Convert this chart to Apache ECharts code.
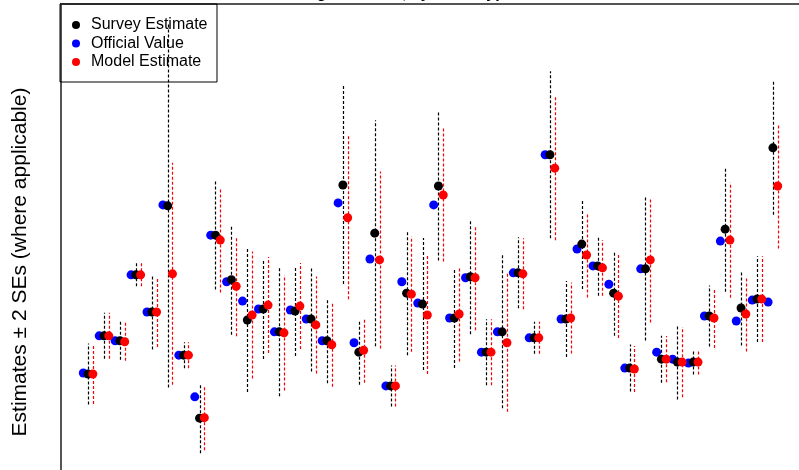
<!DOCTYPE html>
<html><head><meta charset="utf-8">
<script src="https://cdn.jsdelivr.net/npm/echarts@6/dist/echarts.min.js"></script>
<style>html,body{margin:0;padding:0;background:#fff;overflow:hidden}#c{width:799px;height:470px}</style>
</head><body><div id="c"></div>
<script>
// Survey estimate (black) and its standard error
const survey = [25.4,33.1,32.1,45.4,37.9,59.3,29.2,16.5,53.4,44.4,36.3,38.5,33.9,38.1,36.5,32.1,63.5,29.8,53.8,23.0,41.7,39.5,63.3,36.7,45.0,29.8,33.9,45.8,32.7,69.6,36.5,51.6,47.2,41.7,26.6,46.6,28.4,27.8,27.8,37.1,54.6,38.7,40.5,71.0];
const surveySE = [3.07,2.32,1.92,1.16,3.78,18.3,1.31,3.53,5.49,5.54,7.26,5.04,6.50,4.54,5.29,4.28,9.98,3.28,11.39,2.07,6.25,6.65,7.51,5.04,5.80,3.33,7.71,3.58,1.61,8.42,3.83,4.54,3.02,4.28,2.37,7.21,2.37,3.78,1.26,3.07,6.30,3.78,4.33,6.75];
// Official value (blue)
const official = [25.6,33.1,32.1,45.4,37.9,59.5,29.2,20.8,53.4,44.0,40.1,38.5,33.9,38.3,36.5,32.1,59.9,31.7,48.6,23.0,44.0,39.7,59.5,36.7,44.8,29.8,33.9,45.8,32.7,69.6,36.5,50.6,47.2,43.5,26.6,46.6,29.8,28.4,27.6,37.1,52.2,36.1,40.3,39.9];
// Model estimate (red) and its standard error
const model = [25.4,33.1,31.9,45.4,37.9,45.6,29.2,16.6,52.4,43.1,37.3,39.3,33.7,39.1,35.3,31.3,56.9,30.2,48.4,23.0,41.5,37.3,61.5,37.5,44.8,29.8,31.7,45.6,32.7,66.9,36.7,49.4,46.8,41.1,26.4,48.4,28.4,27.8,27.8,36.7,52.4,37.5,40.5,63.3];
const modelSE = [3.02,2.32,1.92,1.16,3.53,11.19,1.31,3.28,5.29,5.04,6.40,4.84,5.80,4.33,4.89,4.23,8.22,3.28,8.92,2.07,5.80,5.95,6.70,4.79,5.29,3.33,6.96,3.58,1.61,7.26,3.58,4.28,2.82,4.23,2.32,6.30,2.32,3.53,1.26,3.02,5.80,3.78,4.33,6.30];

const FONT = '"Liberation Sans", Arial, Helvetica, sans-serif';
const OFF = 0.3;
const idx = survey.map((_, i) => i + 1);

const officialPts = official.map((v, i) => [idx[i] - OFF, v]);
const surveyPts = survey.map((v, i) => [idx[i], v]);
const modelPts = model.map((v, i) => [idx[i] + OFF, v]);
const barData = (vals, ses, dx) => vals.map((v, i) => [idx[i] + dx, v - 2 * ses[i], v + 2 * ses[i]]);

function barSeries(data, color) {
  return {
    type: 'custom', data: data, silent: true, z: 1,
    encode: { x: 0, y: [1, 2] },
    renderItem: function (params, api) {
      const p1 = api.coord([api.value(0), api.value(1)]);
      const p2 = api.coord([api.value(0), api.value(2)]);
      const x = Math.round(p1[0]) + 0.5;
      return { type: 'line', shape: { x1: x, y1: p1[1], x2: x, y2: p2[1] },
        style: { stroke: color, lineWidth: 1.2, lineDash: [3, 2] } };
    }
  };
}

const chart = echarts.init(document.getElementById('c'), null, { renderer: 'canvas' });
chart.setOption({
  animation: false,
  backgroundColor: '#fff',
  title: {
    text: 'Holding total area, by Farm Type',
    left: 267, top: -14, padding: 0,
    textStyle: { fontSize: 16, fontWeight: 'bold', color: '#000', fontFamily: FONT }
  },
  grid: { left: 61, top: 4, width: 778, height: 496, outerBoundsMode: 'none', containLabel: false,
    show: true, borderColor: '#555', borderWidth: 2, backgroundColor: 'transparent' },
  xAxis: { type: 'value', min: -0.7, max: 48.15, show: false, splitLine: { show: false } },
  yAxis: { type: 'value', min: 0, max: 100, show: false, splitLine: { show: false } },
  legend: {
    orient: 'vertical', left: 60, top: 4,
    data: ['Survey Estimate', 'Official Value', 'Model Estimate'],
    icon: 'circle', itemWidth: 8, itemHeight: 8, itemGap: 2.5,
    padding: [13, 9.5, 12, 12],
    borderColor: '#000', borderWidth: 1, backgroundColor: 'transparent',
    selectedMode: false,
    textStyle: { fontSize: 16, color: '#000', fontFamily: FONT, lineHeight: 16, padding: [0, 0, 0, 6] }
  },
  graphic: [{
    type: 'text', x: 20, y: 262, rotation: Math.PI / 2,
    style: { text: 'Estimates \u00b1 2 SEs (where applicable)', fontSize: 21, fontFamily: FONT, fill: '#000',
      align: 'center', verticalAlign: 'middle', textAlign: 'center', textVerticalAlign: 'middle' }
  }],
  series: [
    barSeries(barData(survey, surveySE, 0), '#000'),
    barSeries(barData(model, modelSE, OFF), '#ff0000'),
    { name: 'Official Value', type: 'scatter', data: officialPts, symbolSize: 9, itemStyle: { color: '#0000ff', opacity: 1 }, z: 2, silent: true },
    { name: 'Survey Estimate', type: 'scatter', data: surveyPts, symbolSize: 9, itemStyle: { color: '#000', opacity: 1 }, z: 3, silent: true },
    { name: 'Model Estimate', type: 'scatter', data: modelPts, symbolSize: 9, itemStyle: { color: '#ff0000', opacity: 1 }, z: 4, silent: true }
  ]
});
</script></body></html>
